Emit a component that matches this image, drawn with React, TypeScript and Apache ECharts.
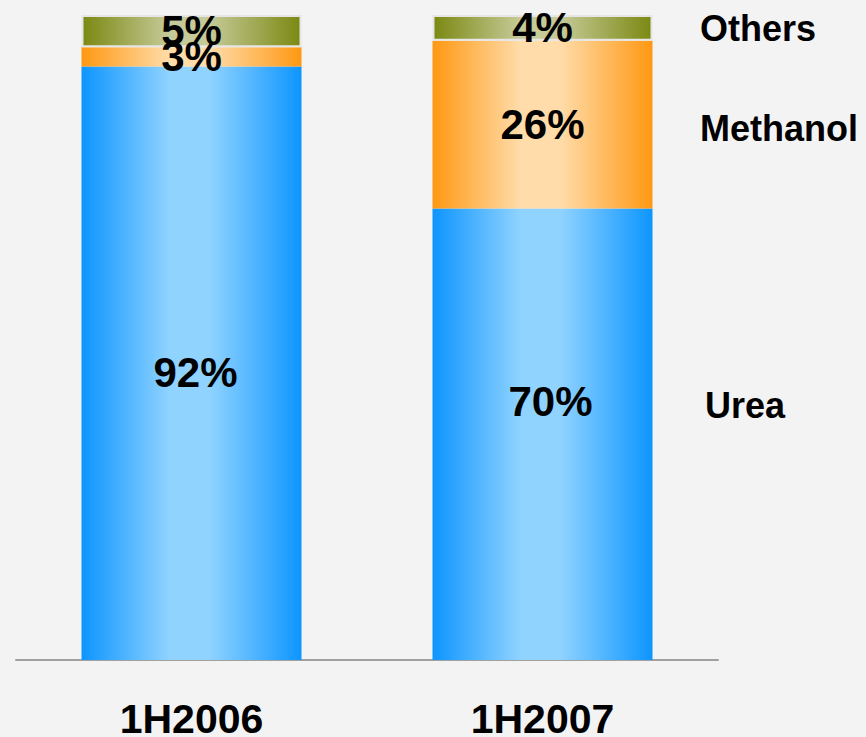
import React, { useEffect, useRef } from "react";
import * as echarts from "echarts";

const categories = ["1H2006", "1H2007"];
const seriesNames = ["Urea", "Methanol", "Others"];
const ureaValues = [92, 70];
const methanolValues = [3, 26];
const othersValues = [5, 4];
const ureaLabelOffsets = [[4, 9], [8, -33]];
const methanolLabelOffsets = [[0, 0], [0, 0]];
const othersLabelOffsets = [[0, -1], [0, 0]];

const FONT = "'Liberation Sans', Arial, Helvetica, sans-serif";

function grad(edge: string, mid: string) {
  return new echarts.graphic.LinearGradient(0, 0, 1, 0, [
    { offset: 0, color: edge },
    { offset: 0.4, color: mid },
    { offset: 0.58, color: mid },
    { offset: 1, color: edge },
  ]);
}

function buildData(values: number[], offsets: number[][]) {
  return values.map((v, i) => ({
    value: v,
    label: { offset: offsets[i] },
  }));
}

export default function App() {
  const ref = useRef<HTMLDivElement>(null);
  useEffect(() => {
    document.body.style.margin = "0";
    document.body.style.background = "#f3f3f3";
    const chart = echarts.init(ref.current!, null, { renderer: "svg" });
    const labelBase = {
      show: true,
      position: "inside",
      color: "#000",
      fontSize: 42,
      fontWeight: "bold",
      fontFamily: FONT,
      formatter: "{c}%",
    };
    chart.setOption({
      animation: false,
      backgroundColor: "#f3f3f3",
      grid: {
        left: 16,
        right: 148,
        top: 15,
        bottom: 77,
        containLabel: false,
        outerBoundsMode: "none",
      },
      xAxis: {
        type: "category",
        data: categories,
        axisLine: { show: true, lineStyle: { color: "#a0a0a0", width: 2 } },
        axisTick: { show: false },
        axisLabel: {
          color: "#000",
          fontSize: 41,
          fontWeight: "bold",
          fontFamily: FONT,
          margin: 38,
        },
      },
      yAxis: {
        type: "value",
        min: 0,
        max: 100,
        show: false,
        splitLine: { show: false },
      },
      series: [
        {
          name: seriesNames[0],
          type: "bar",
          stack: "total",
          barWidth: 220,
          data: buildData(ureaValues, ureaLabelOffsets),
          itemStyle: { color: grad("#0d95ff", "#90d3ff") },
          label: labelBase,
        },
        {
          name: seriesNames[1],
          type: "bar",
          stack: "total",
          barWidth: 220,
          data: buildData(methanolValues, methanolLabelOffsets),
          itemStyle: { color: grad("#ff9812", "#ffdcaa") },
          label: labelBase,
        },
        {
          name: seriesNames[2],
          type: "bar",
          stack: "total",
          barWidth: 220,
          data: buildData(othersValues, othersLabelOffsets),
          itemStyle: {
            color: grad("#7b8912", "#c6ca98"),
            borderColor: "#e6e6e6",
            borderWidth: 2,
          },
          label: labelBase,
        },
      ],
      graphic: [
        {
          type: "text",
          left: 700,
          top: 10,
          style: { text: seriesNames[2], fontSize: 36, fontWeight: "bold", fontFamily: FONT, fill: "#000" },
        },
        {
          type: "text",
          left: 700,
          top: 110,
          style: { text: seriesNames[1], fontSize: 36, fontWeight: "bold", fontFamily: FONT, fill: "#000" },
        },
        {
          type: "text",
          left: 705,
          top: 387,
          style: { text: seriesNames[0], fontSize: 36, fontWeight: "bold", fontFamily: FONT, fill: "#000" },
        },
      ],
    });
    return () => chart.dispose();
  }, []);
  return (
    <div
      ref={ref}
      style={{ position: "fixed", left: 0, top: 0, width: 866, height: 737, background: "#f3f3f3" }}
    />
  );
}
